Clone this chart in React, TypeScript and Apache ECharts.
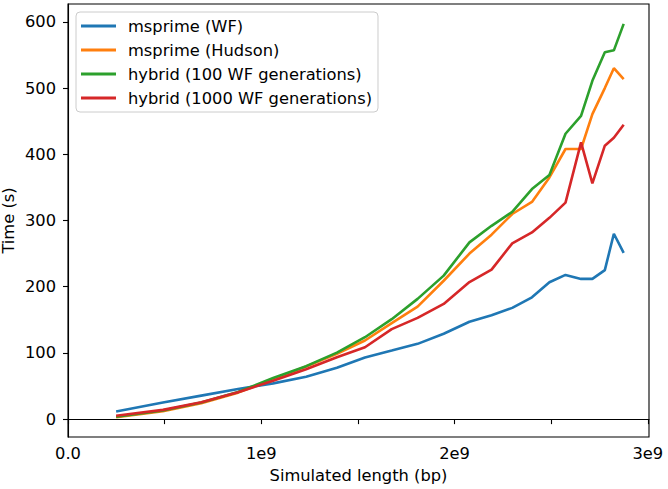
import React, { useEffect, useRef } from "react";
import * as echarts from "echarts";

// Simulated length (bp): cumulative chromosome lengths
const lengths: number[] = [
  248956422, 491149951, 689445510, 879660065, 1061198324, 1232004303,
  1391350276, 1536488912, 1674883629, 1808681051, 1943767673, 2077042982,
  2191407310, 2298451028, 2400442217, 2490780562, 2574038003, 2654411288,
  2713028904, 2777473071, 2824183054, 2875001522,
];

const msprimeWF: number[] = [
  11.6, 25, 35.5, 45.5, 54, 64, 77.5, 93, 103.5, 113.7, 129, 147, 157, 168,
  184, 206.7, 217.8, 211.8, 211.8, 225, 280, 251,
];
const msprimeHudson: number[] = [
  3, 12, 24, 40, 60, 79.5, 98.6, 118.7, 145, 170, 209, 250, 278.6, 309.8,
  328, 365, 408, 408, 460.6, 500, 530, 513.4,
];
const hybrid100: number[] = [
  3.5, 13, 25, 41, 62, 80, 100.5, 123.7, 151, 181.6, 216.7, 267, 292, 313,
  347.5, 368.6, 431, 458, 511, 554, 557, 597,
];
const hybrid1000: number[] = [
  5, 14, 25.6, 40.7, 58, 75.4, 93.5, 108.6, 136, 153, 174, 207, 225.8,
  265.5, 282, 304, 327, 418, 356, 413, 425, 444.5,
];

const seriesNames: string[] = [
  "msprime (WF)",
  "msprime (Hudson)",
  "hybrid (100 WF generations)",
  "hybrid (1000 WF generations)",
];
const seriesColors: string[] = ["#1f77b4", "#ff7f0e", "#2ca02c", "#d62728"];

const xTickValues: number[] = [0, 5e8, 1e9, 1.5e9, 2e9, 2.5e9, 3e9];
const xLabelValues: number[] = [0, 1e9, 2e9, 3e9];
const yTickValues: number[] = [0, 100, 200, 300, 400, 500, 600];

const FONT = "DejaVu Sans";
const FS = 16.3;

export default function App() {
  const ref = useRef<HTMLDivElement>(null);
  useEffect(() => {
    if (!ref.current) return;
    const chart = echarts.init(ref.current, undefined, { renderer: "svg" });
    const all = [msprimeWF, msprimeHudson, hybrid100, hybrid1000];
    chart.setOption({
      animation: false,
      backgroundColor: "#ffffff",
      textStyle: { fontFamily: FONT },
      grid: {
        left: 68,
        right: 19,
        top: 4,
        bottom: 52,
        containLabel: false,
        outerBoundsMode: "none",
        show: true,
        borderColor: "#000",
        borderWidth: 1.1,
        backgroundColor: "transparent",
      },
      legend: {
        orient: "vertical",
        left: 76,
        top: 12,
        padding: [4, 6, 4, 5],
        itemWidth: 35,
        itemHeight: 3,
        itemGap: 4,
        icon: "rect",
        backgroundColor: "rgba(255,255,255,0.8)",
        borderColor: "#cccccc",
        borderWidth: 1,
        borderRadius: 4,
        textStyle: {
          fontFamily: FONT,
          fontSize: FS,
          color: "#000",
          lineHeight: 20,
          padding: [0, 0, 0, 7],
        },
        data: seriesNames,
      },
      xAxis: {
        type: "value",
        min: 0,
        max: 3.006e9,
        name: "Simulated length (bp)",
        nameLocation: "middle",
        nameGap: 30,
        nameMoveOverlap: false,
        nameTextStyle: { fontFamily: FONT, fontSize: FS, color: "#000" },
        axisLine: { show: true, lineStyle: { color: "#000", width: 1.1 } },
        axisTick: {
          show: true,
          length: 5,
          lineStyle: { color: "#000", width: 1.1 },
          customValues: xTickValues,
        },
        axisLabel: {
          fontFamily: FONT,
          fontSize: FS,
          color: "#000",
          margin: 8,
          customValues: xLabelValues,
          formatter: (v: number) => (v === 0 ? "0.0" : `${Math.round(v / 1e9)}e9`),
        },
        splitLine: { show: false },
      },
      yAxis: {
        type: "value",
        min: -27,
        max: 627,
        name: "Time (s)",
        nameLocation: "middle",
        nameGap: 52,
        nameMoveOverlap: false,
        nameTextStyle: { fontFamily: FONT, fontSize: FS, color: "#000" },
        axisLine: { show: true, lineStyle: { color: "#000", width: 1.1 } },
        axisTick: {
          show: true,
          length: 5,
          lineStyle: { color: "#000", width: 1.1 },
          customValues: yTickValues,
        },
        axisLabel: {
          fontFamily: FONT,
          fontSize: FS,
          color: "#000",
          margin: 12,
          customValues: yTickValues,
        },
        splitLine: { show: false },
      },
      series: all.map((vals, i) => ({
        name: seriesNames[i],
        type: "line",
        showSymbol: false,
        symbol: "none",
        color: seriesColors[i],
        lineStyle: { color: seriesColors[i], width: 2.6 },
        data: vals.map((v, j) => [lengths[j], v]),
      })),
    });
    return () => chart.dispose();
  }, []);
  return (
    <div
      ref={ref}
      style={{ position: "fixed", left: 0, top: 0, width: 668, height: 489 }}
    />
  );
}
